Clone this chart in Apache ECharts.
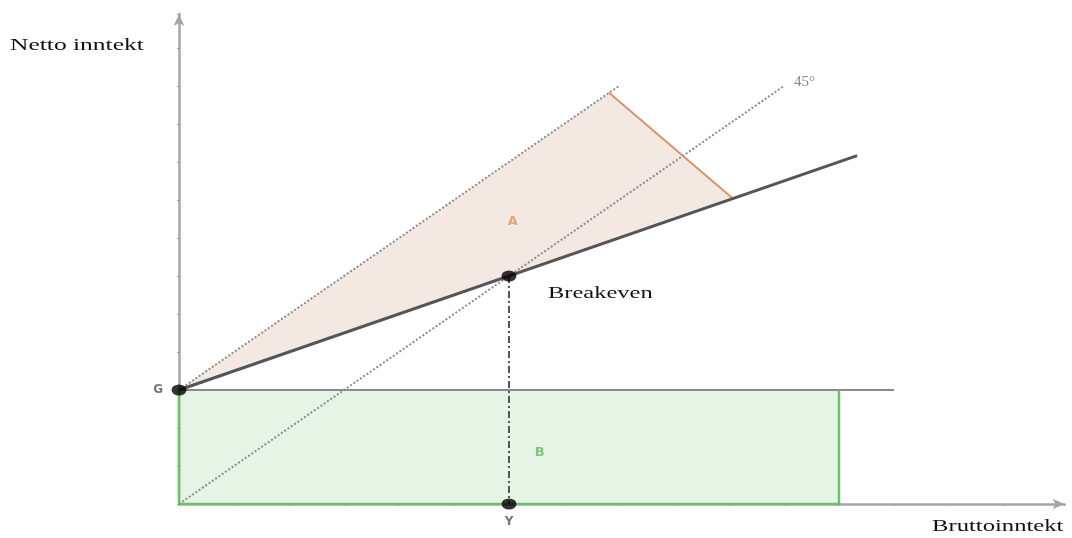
<!DOCTYPE html>
<html>
<head>
<meta charset="utf-8">
<script src="https://cdn.jsdelivr.net/npm/echarts@6/dist/echarts.min.js"></script>
<style>
  html, body { margin: 0; padding: 0; background: #fff; }
  #main { width: 1072px; height: 538px; }
</style>
</head>
<body>
<div id="main"></div>
<script>
// data in axis units (1 unit = one tick)
const line45 = [[0, 0], [11, 11]];
const upperLine = [[0, 3], [8, 11]];
const netLine = [[0, 3], [12.33, 9.17]];
const orangeLine = [[7.82, 10.82], [10.07, 8.04]];
const areaA = [[0, 3], [7.82, 10.82], [10.07, 8.04]];
const areaB = [[0, 0], [12, 0], [12, 3], [0, 3]];
const greenEdge = [[0, 3], [0, 0], [12, 0], [12, 3]];
const gLine = [[0, 3], [13, 3]];
const dropLine = [[6, 6], [6, 0]];
const dots = [[0, 3], [6, 6], [6, 0]];
const labelA = [[6.07, 7.42]];
const labelB = [[6.56, 1.34]];
const labelG = [[0, 3]];
const labelY = [[6, 0]];
const label45 = [[11, 11]];

const chart = echarts.init(document.getElementById('main'));

function polygon(points, fill) {
  return {
    type: 'custom',
    silent: true,
    z: 1,
    data: [0],
    renderItem: function (params, api) {
      return {
        type: 'polygon',
        shape: { points: points.map(p => api.coord(p)) },
        style: { fill: fill }
      };
    }
  };
}

function seg(data, color, width, type, z) {
  return {
    type: 'line',
    data: data,
    showSymbol: false,
    silent: true,
    z: z || 3,
    lineStyle: { color: color, width: width, type: type || 'solid' }
  };
}

function txt(data, text, color, pos, font, size, weight, dist, offset) {
  return {
    type: 'scatter',
    data: data,
    symbolSize: 0,
    silent: true,
    z: 10,
    label: {
      show: true,
      position: pos,
      distance: dist || 5,
      offset: offset || [0, 0],
      formatter: text,
      color: color,
      fontFamily: font,
      fontSize: size,
      fontWeight: weight || 'normal'
    }
  };
}

const axisCommon = {
  type: 'value',
  min: 0,
  interval: 1,
  axisLabel: { show: false },
  splitLine: { show: false },
  axisTick: { show: true, length: 2, lineStyle: { color: '#999', width: 1 } },
  axisLine: {
    show: true,
    symbol: ['none', 'arrow'],
    symbolSize: [8, 12],
    lineStyle: { color: '#a6a6a6', width: 2.5 }
  }
};

chart.setOption({
  animation: false,
  grid: { left: 179, top: 14, width: 885.5, height: 490 },
  xAxis: Object.assign({}, axisCommon, { max: 16.1 }),
  yAxis: Object.assign({}, axisCommon, { max: 12.895 }),
  series: [
    polygon(areaA, 'rgba(240,222,214,0.7)'),
    polygon(areaB, 'rgba(220,240,220,0.75)'),
    seg(gLine, '#8a8a8a', 2, 'solid', 3),
    seg(greenEdge, '#6cc06a', 2.5, 'solid', 4),
    seg(line45, '#8c8c8c', 2, 'dotted', 3),
    seg(upperLine, '#8c8c8c', 2, 'dotted', 3),
    seg(orangeLine, '#d7946a', 2, 'solid', 4),
    seg(netLine, '#555555', 3, 'solid', 5),
    seg(dropLine, '#555555', 2, [7, 3, 2, 3], 4),
    {
      type: 'scatter',
      data: dots,
      symbol: 'path://M-1 0a1 1 0 1 0 2 0a1 1 0 1 0 -2 0z',
      symbolKeepAspect: false,
      symbolSize: [15, 11],
      silent: true,
      z: 8,
      itemStyle: { color: '#000' }
    },
    txt(labelA, 'A', '#e0935a', 'inside', 'DejaVu Sans', 13, 'bold'),
    txt(labelB, 'B', '#5dbb5a', 'inside', 'DejaVu Sans', 13, 'bold'),
    txt(labelG, 'G', '#555', 'left', 'DejaVu Sans', 12, 'bold', 16),
    txt(labelY, 'Y', '#555', 'bottom', 'DejaVu Sans', 12, 'bold', 12),
    txt(label45, '45°', '#666', 'right', 'Liberation Serif', 15, 'normal', 10, [0, -4])
  ],
  graphic: [
    {
      type: 'text', left: 10, top: 37, scaleX: 1.5, originX: 10,
      style: { text: 'Netto inntekt', font: '17px "Liberation Serif"', fill: '#111' }
    },
    {
      type: 'text', left: 548, top: 285, scaleX: 1.44, originX: 548,
      style: { text: 'Breakeven', font: '17px "Liberation Serif"', fill: '#111' }
    },
    {
      type: 'text', left: 932, top: 518, scaleX: 1.45, originX: 932,
      style: { text: 'Bruttoinntekt', font: '17px "Liberation Serif"', fill: '#111' }
    }
  ]
});
</script>
</body>
</html>
